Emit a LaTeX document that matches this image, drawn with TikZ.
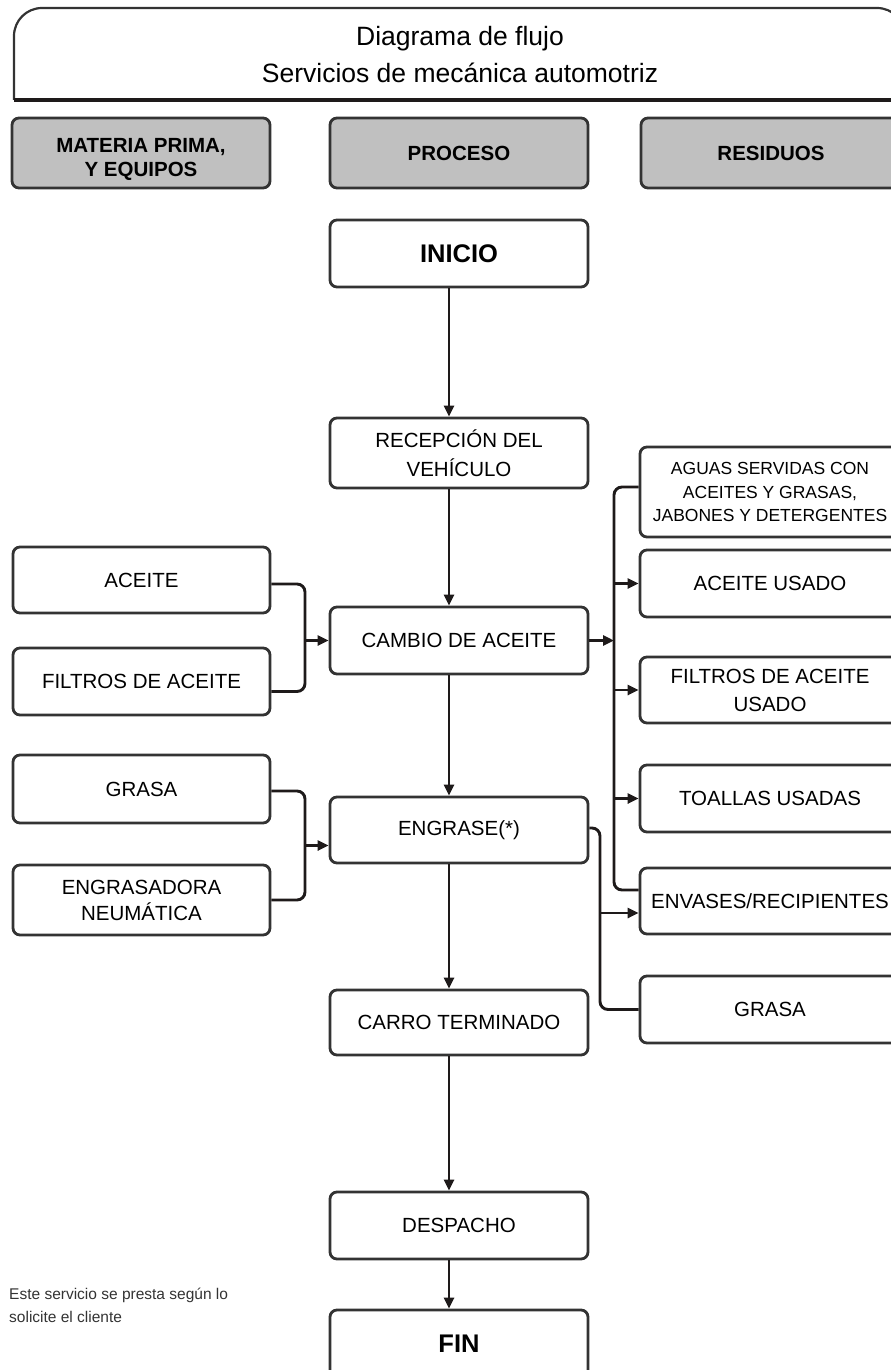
\documentclass[tikz,border=0pt]{standalone}
\usepackage{fontspec}
\setmainfont{Liberation Sans}
\usetikzlibrary{arrows.meta,calc}
\definecolor{bordc}{HTML}{333333}
\definecolor{linec}{HTML}{1E1A1A}
\definecolor{headc}{HTML}{C0C0C0}
\newcommand{\fsReg}{\fontsize{20.5}{26}\selectfont}
\newcommand{\fsBig}{\fontsize{25.5}{30}\selectfont\bfseries}
\newcommand{\fsHead}{\fontsize{20.5}{24}\selectfont\bfseries}
\newcommand{\fsSmall}{\fontsize{17.5}{23.5}\selectfont}
\newcommand{\fsTitle}{\fontsize{26.5}{37}\selectfont}
\begin{document}
\begin{tikzpicture}[x=1pt,y=-1pt,
  box/.style={draw=bordc, line width=2.8pt, rounded corners=7pt, inner sep=0pt,
    align=center, fill=white, font=\fsReg, text=black},
  pbox/.style={box, minimum width=258pt},
  lbox/.style={box, minimum width=257pt},
  rbox/.style={box, minimum width=260pt},
  hbox/.style={box, fill=headc, font=\fsHead, minimum height=70pt},
  conn/.style={draw=linec, line width=2.9pt},
  arr/.style={conn, -{Triangle[length=11pt,width=10pt]}},
]
\useasboundingbox (0,0) rectangle (891,1370);

% title
\draw[draw=bordc, line width=2.2pt, rounded corners=28pt] (14,100) -- (14,8) -- (905,8) -- (905,100);
\draw[draw=linec, line width=3.2pt] (14,100) -- (905,100);
\node[font=\fsTitle, align=center] (title) at (460,55) {Diagrama de flujo\\Servicios de mecánica automotriz};

% headers
\node[hbox, minimum width=258pt, text height=52pt] (hmat) at (141,153) {MATERIA PRIMA,\\Y EQUIPOS};
\node[hbox, minimum width=258pt] (hproc) at (459,153) {PROCESO};
\node[hbox, minimum width=260pt] (hres) at (771,153) {RESIDUOS};

% process column
\node[pbox, minimum height=67pt, font=\fsBig] (inicio) at (459,253.5) {INICIO};
\node[pbox, minimum height=70pt, font=\fontsize{20.5}{29}\selectfont] (recep) at (459,453) {RECEPCIÓN DEL\\VEHÍCULO};
\node[pbox, minimum height=67pt] (cambio) at (459,640.5) {CAMBIO DE ACEITE};
\node[pbox, minimum height=66pt] (engrase) at (459,830) {ENGRASE(*)};
\node[pbox, minimum height=65pt] (carro) at (459,1022.5) {CARRO TERMINADO};
\node[pbox, minimum height=67pt] (despacho) at (459,1225.5) {DESPACHO};
\node[pbox, minimum height=67pt, font=\fsBig] (fin) at (459,1343.5) {FIN};

% left column
\node[lbox, minimum height=66pt] (aceite) at (141.5,580) {ACEITE};
\node[lbox, minimum height=67pt] (filtros) at (141.5,681.5) {FILTROS DE ACEITE};
\node[lbox, minimum height=68pt] (grasa) at (141.5,789) {GRASA};
\node[lbox, minimum height=70pt] (engrasadora) at (141.5,900) {ENGRASADORA\\NEUMÁTICA};

% right column
\node[rbox, minimum height=90pt, font=\fsSmall] (aguas) at (770,492) {AGUAS SERVIDAS CON\\ACEITES Y GRASAS,\\JABONES Y DETERGENTES};
\node[rbox, minimum height=67pt] (aceiteu) at (770,583.5) {ACEITE USADO};
\node[rbox, minimum height=66pt, font=\fontsize{20.5}{28}\selectfont] (filtrosu) at (770,690) {FILTROS DE ACEITE\\USADO};
\node[rbox, minimum height=67pt] (toallas) at (770,798.5) {TOALLAS USADAS};
\node[rbox, minimum height=66pt] (envases) at (770,901) {ENVASES/RECIPIENTES};
\node[rbox, minimum height=67pt] (grasau) at (770,1009.5) {GRASA};

% footnote
\node[anchor=base west, align=left, inner sep=0pt, font=\fontsize{15.5}{23}\selectfont, text=black!80] (nota) at (9,1322) {Este servicio se presta según lo\\solicite el cliente};

% helper coordinates
\coordinate (ax) at (449,0);
\coordinate (bx) at (305,0);
\coordinate (bus) at (614,0);
\coordinate (bus2) at (600,0);
\coordinate (aceo) at ([yshift=-4pt]aceite.east);
\coordinate (filo) at ([yshift=-10pt]filtros.east);
\coordinate (graso) at ([yshift=-2pt]grasa.east);
\coordinate (engro) at (engrasadora.east);
\coordinate (aguasi) at ([yshift=5pt]aguas.west);
\coordinate (env1) at ([yshift=11pt]envases.west);
\coordinate (env2) at ([yshift=-12pt]envases.west);

% main flow
\draw[arr] (inicio.south -| ax) -- (recep.north -| ax);
\draw[arr] (recep.south -| ax) -- (cambio.north -| ax);
\draw[arr] (cambio.south -| ax) -- (engrase.north -| ax);
\draw[arr] (engrase.south -| ax) -- (carro.north -| ax);
\draw[arr] (carro.south -| ax) -- (despacho.north -| ax);
\draw[arr] (despacho.south -| ax) -- (fin.north -| ax);

% inputs
\draw[conn, rounded corners=8pt] (aceo) -- (aceo -| bx) -- (filo -| bx) -- (filo);
\draw[arr] (bx |- cambio.west) -- (cambio.west);
\draw[conn, rounded corners=8pt] (graso) -- (graso -| bx) -- (engro -| bx) -- (engro);
\coordinate (m2) at ($(graso -| bx)!0.5!(engro -| bx)$);
\draw[arr] (m2) -- (m2 -| engrase.west);

% outputs from cambio
\draw[arr] (cambio.east) -- (cambio.east -| bus);
\draw[conn, rounded corners=8pt] (aguasi) -- (aguasi -| bus) -- (env1 -| bus) -- (env1);
\draw[arr] (aceiteu.west -| bus) -- (aceiteu.west);
\draw[arr] (filtrosu.west -| bus) -- (filtrosu.west);
\draw[arr] (toallas.west -| bus) -- (toallas.west);

% outputs from engrase
\draw[conn, rounded corners=8pt] ([yshift=2pt]engrase.east) -- ([yshift=2pt]engrase.east -| bus2) -- (grasau.west -| bus2) -- (grasau.west);
\draw[arr] (env2 -| bus2) -- (env2);
\end{tikzpicture}
\end{document}
